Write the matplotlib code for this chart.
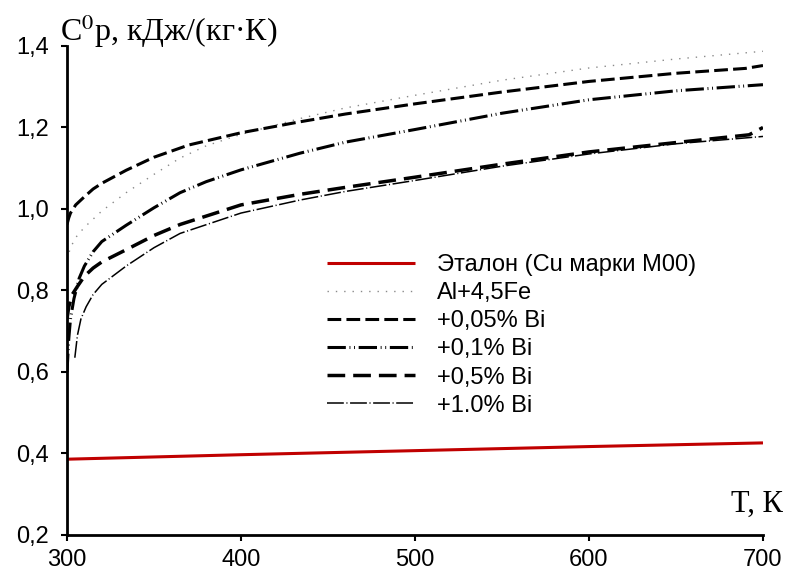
import matplotlib
matplotlib.use("Agg")
import matplotlib.pyplot as plt
import numpy as np

# ---- data ----
T_ref = [300, 400, 500, 600, 700]
cp_ref = [0.386, 0.397, 0.407, 0.417, 0.426]

T_al = [300, 302, 305, 310, 315, 320, 334, 350, 365, 380, 400, 434, 460, 500, 550, 600, 650, 700]
cp_al = [0.875, 0.905, 0.93, 0.955, 0.975, 0.995, 1.04, 1.085, 1.125, 1.155, 1.183, 1.222, 1.248, 1.279, 1.316, 1.346, 1.368, 1.387]

T_005 = [300, 301, 302, 305, 310, 315, 320, 334, 350, 370, 400, 434, 460, 500, 550, 600, 650, 690, 700]
cp_005 = [0.962, 0.978, 0.99, 1.01, 1.03, 1.049, 1.063, 1.095, 1.127, 1.157, 1.187, 1.214, 1.233, 1.258, 1.287, 1.313, 1.333, 1.345, 1.352]

T_01 = [300, 301, 302, 304, 307, 310, 315, 320, 334, 350, 365, 380, 400, 434, 460, 500, 550, 600, 650, 700]
cp_01 = [0.6, 0.68, 0.73, 0.78, 0.83, 0.86, 0.895, 0.92, 0.96, 1.003, 1.04, 1.067, 1.096, 1.137, 1.164, 1.195, 1.235, 1.268, 1.29, 1.305]

T_05 = [300, 301, 303, 306, 310, 315, 320, 334, 350, 365, 400, 434, 460, 500, 550, 600, 650, 692, 700]
cp_05 = [0.73, 0.76, 0.79, 0.81, 0.835, 0.855, 0.87, 0.9, 0.935, 0.962, 1.01, 1.036, 1.053, 1.078, 1.11, 1.14, 1.163, 1.182, 1.2]

T_10 = [304.5, 306, 308, 311, 315, 320, 334, 350, 365, 400, 434, 460, 500, 550, 600, 650, 700]
cp_10 = [0.635, 0.69, 0.73, 0.76, 0.79, 0.815, 0.86, 0.905, 0.94, 0.99, 1.022, 1.043, 1.07, 1.105, 1.135, 1.16, 1.178]

labels = ["Эталон (Cu марки M00)", "Al+4,5Fe", "+0,05% Bi", "+0,1% Bi", "+0,5% Bi", "+1.0% Bi"]
yticks = [0.2, 0.4, 0.6, 0.8, 1.0, 1.2, 1.4]
ytick_labels = ["0,2", "0,4", "0,6", "0,8", "1,0", "1,2", "1,4"]
xticks = [300, 400, 500, 600, 700]

plt.rcParams['font.family'] = ['Liberation Sans', 'DejaVu Sans']
plt.rcParams['mathtext.fontset'] = 'stix'

fig = plt.figure(figsize=(7.9, 5.79), dpi=100)
ax = fig.add_axes([0.0848, 0.076, 0.881, 0.8446])

ax.plot(T_ref, cp_ref, color='#C00000', lw=2.2, label=labels[0], solid_capstyle='butt')
ax.plot(T_al, cp_al, color='#8a8a8a', lw=1.0, linestyle=(0, (1, 5)), label=labels[1])
ax.plot(T_005, cp_005, color='black', lw=2.2, linestyle=(0, (4.5, 1.7)), label=labels[2])
ax.plot(T_01, cp_01, color='black', lw=2.2, linestyle=(0, (6.0, 1.2, 0.3, 1.2, 0.3, 1.2)), label=labels[3])
ax.plot(T_05, cp_05, color='black', lw=2.5, linestyle=(0, (5.1, 2.3)), label=labels[4])
ax.plot(T_10, cp_10, color='black', lw=1.1, linestyle=(0, (11, 1.7, 0.7, 1.7)), label=labels[5])

ax.set_xlim(300, 700)
ax.set_ylim(0.2, 1.4)
ax.set_xticks(xticks)
ax.set_xticklabels([str(x) for x in xticks])
ax.set_yticks(yticks)
ax.set_yticklabels(ytick_labels)

for s in ['top', 'right']:
    ax.spines[s].set_visible(False)
for s in ['left', 'bottom']:
    ax.spines[s].set_linewidth(2.0)
ax.tick_params(axis='both', direction='out', length=4, width=1.5, labelsize=17)
ax.tick_params(axis='y', pad=9)
ax.tick_params(axis='x', pad=6)

fig.text(60 / 790, 1 - 41 / 579, "C$^{0}$p, кДж/(кг·К)", family=['Liberation Serif', 'DejaVu Serif'],
         fontsize=23, ha='left', va='baseline')
fig.text(783 / 790, 1 - 512 / 579, "T, К", family=['Liberation Serif', 'DejaVu Serif'],
         fontsize=22, ha='right', va='baseline')

leg = ax.legend(loc='upper left', bbox_to_anchor=(327 / 790, 1 - 254 / 579), bbox_transform=fig.transFigure,
                frameon=False, fontsize=17, handlelength=3.73, handletextpad=0.93, labelspacing=0.26,
                borderpad=0, borderaxespad=0)

fig.savefig("out.png", dpi=100)
